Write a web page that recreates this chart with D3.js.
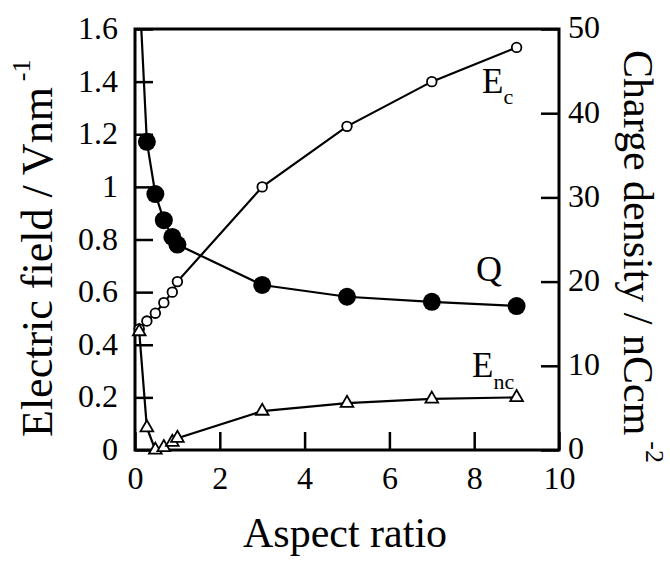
<!DOCTYPE html>
<html>
<head>
<meta charset="utf-8">
<script src="https://cdn.jsdelivr.net/npm/d3@7"></script>
<style>
  body { margin: 0; background: #fff; }
  text { font-family: "Liberation Serif", "Times New Roman", serif; fill: #000; }
</style>
</head>
<body>
<script>
// data
const aspect = [0.1, 0.28, 0.48, 0.68, 0.88, 1.0, 3, 5, 7, 9];
const ec = [0.46, 0.49, 0.52, 0.56, 0.60, 0.64, 1.0, 1.23, 1.40, 1.53];      // V/nm
const enc = [0.45, 0.085, 0.0, 0.01, 0.03, 0.045, 0.148, 0.178, 0.194, 0.2];  // V/nm
const charge = [55, 36.6, 30.4, 27.3, 25.3, 24.4, 19.6, 18.2, 17.6, 17.1];   // nC/cm2

const xTicks = [0, 2, 4, 6, 8, 10];
const leftTicks = [0, 0.2, 0.4, 0.6, 0.8, 1, 1.2, 1.4, 1.6];
const leftLabels = ["0", "0.2", "0.4", "0.6", "0.8", "1", "1.2", "1.4", "1.6"];
const rightTicks = [0, 10, 20, 30, 40, 50];

const margin = { top: 29, bottom: 112, left: 135, right: 111 };
const width = 670 - margin.left - margin.right;
const height = 562 - margin.top - margin.bottom;

const svg = d3.select('body').append('svg')
    .attr('width', 670)
    .attr('height', 562);

const g = svg.append('g')
    .attr('transform', `translate(${margin.left}, ${margin.top})`);

const x = d3.scaleLinear().domain([0, 10]).range([0, width]);
const yl = d3.scaleLinear().domain([0, 1.6]).range([height, 0]);
const yr = d3.scaleLinear().domain([0, 50]).range([height, 0]);

const tick = 18;

// axes (ticks point inward)
const gx = g.append('g').attr('transform', `translate(0, ${height})`)
    .call(d3.axisBottom(x).tickValues(xTicks).tickSizeInner(-tick).tickSizeOuter(0).tickFormat(d3.format('d')));
gx.selectAll('text').attr('y', 0).attr('dy', 39).style('font-size', '32px');

const gl = g.append('g')
    .call(d3.axisLeft(yl).tickValues(leftTicks).tickSizeInner(-tick).tickSizeOuter(0)
        .tickFormat((d, i) => leftLabels[i]));
gl.selectAll('text').attr('x', -17).attr('dy', '0.3em').style('font-size', '32px');

const gr = g.append('g').attr('transform', `translate(${width}, 0)`)
    .call(d3.axisRight(yr).tickValues(rightTicks).tickSizeInner(-tick).tickSizeOuter(0));
gr.selectAll('text').attr('x', 9).attr('dy', '0.28em').style('font-size', '32px');

g.selectAll('.domain').remove();
g.selectAll('.tick line').attr('stroke', '#000').attr('stroke-width', 2.5);

// frame
g.append('rect')
    .attr('width', width).attr('height', height)
    .attr('fill', 'none').attr('stroke', '#000').attr('stroke-width', 3);

g.append('clipPath').attr('id', 'clip')
    .append('rect').attr('width', width).attr('height', height);

const plot = g.append('g').attr('clip-path', 'url(#clip)');

const lineL = (arr) => d3.line().x((d, i) => x(aspect[i])).y((d) => yl(d))(arr);
const lineR = d3.line().x((d, i) => x(aspect[i])).y((d) => yr(d));

plot.append('path').attr('d', lineL(ec))
    .attr('fill', 'none').attr('stroke', '#000').attr('stroke-width', 2.2);
plot.append('path').attr('d', lineL(enc))
    .attr('fill', 'none').attr('stroke', '#000').attr('stroke-width', 2.2);
plot.append('path').attr('d', lineR(charge))
    .attr('fill', 'none').attr('stroke', '#000').attr('stroke-width', 2.2);

const marks = g.append('g');

// Q filled circles
marks.selectAll('.q').data(charge).join('circle')
    .attr('class', 'q')
    .attr('cx', (d, i) => x(aspect[i]))
    .attr('cy', (d) => yr(d))
    .attr('r', 9)
    .attr('fill', '#000')
    .style('display', (d) => d > 50 ? 'none' : null);

// Ec open circles
marks.selectAll('.ec').data(ec).join('circle')
    .attr('class', 'ec')
    .attr('cx', (d, i) => x(aspect[i]))
    .attr('cy', (d) => yl(d))
    .attr('r', 4.8)
    .attr('fill', '#fff').attr('stroke', '#000').attr('stroke-width', 1.8);

// Enc open triangles
const tri = d3.symbol().type(d3.symbolTriangle).size(70);
marks.selectAll('.enc').data(enc).join('path')
    .attr('class', 'enc')
    .attr('transform', (d, i) => `translate(${x(aspect[i])}, ${yl(d)})`)
    .attr('d', tri)
    .attr('fill', '#fff').attr('stroke', '#000').attr('stroke-width', 1.8);

// series labels
const ecLab = svg.append('text').attr('x', 482).attr('y', 93).style('font-size', '35px');
ecLab.append('tspan').text('E');
ecLab.append('tspan').attr('dy', 11).style('font-size', '22px').text('c');

svg.append('text').attr('x', 476).attr('y', 281).style('font-size', '36px').text('Q');

const encLab = svg.append('text').attr('x', 472).attr('y', 377).style('font-size', '35px');
encLab.append('tspan').text('E');
encLab.append('tspan').attr('dy', 12).style('font-size', '22px').text('nc');

// axis titles
svg.append('text')
    .attr('x', 345).attr('y', 547)
    .attr('text-anchor', 'middle')
    .style('font-size', '42px')
    .text('Aspect ratio');

const lt = svg.append('text')
    .attr('transform', 'translate(52, 437) rotate(-90)')
    .style('font-size', '44px');
lt.append('tspan').text('Electric field / Vnm');
lt.append('tspan').attr('dx', 6).attr('dy', -22).style('font-size', '26px').text('-1');

const rt = svg.append('text')
    .attr('transform', 'translate(624, 50) rotate(90)')
    .style('font-size', '42px');
rt.append('tspan').text('Charge density / nCcm');
rt.append('tspan').attr('dx', 6).attr('dy', -22).style('font-size', '26px').text('-2');
</script>
</body>
</html>
